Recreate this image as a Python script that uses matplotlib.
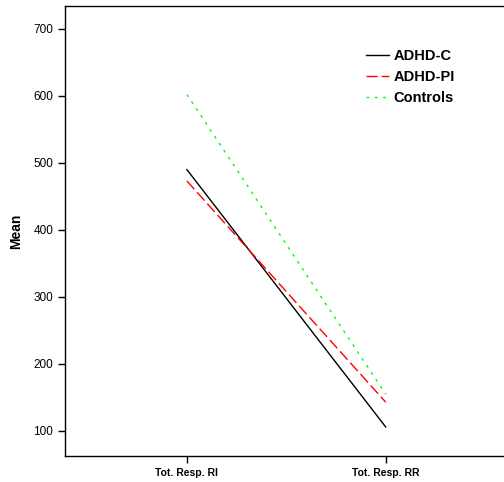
import matplotlib
matplotlib.use("Agg")
import matplotlib.pyplot as plt

categories = ["Tot. Resp. RI", "Tot. Resp. RR"]
adhd_c = [490, 106]
adhd_pi = [473, 143]
controls = [602, 155]
yticks = [100, 200, 300, 400, 500, 600, 700]

plt.rcParams['font.family'] = ['Liberation Sans', 'DejaVu Sans']
fig = plt.figure(figsize=(5.04, 4.82), dpi=100)
ax = fig.add_axes([65/504, 26/482, 1 - 65/504 + 0.002, 450/482])
x = list(range(len(categories)))
ax.plot(x, adhd_c, color='black', lw=1, label='ADHD-C')
ax.plot(x, adhd_pi, color='red', lw=1, dashes=(8, 3), label='ADHD-PI')
ax.plot(x, controls, color='#00ff00', lw=1, dashes=(2, 4), label='Controls')
ax.set_xlim(-0.613, 1.6)
ax.set_ylim(62.7, 734)
ax.set_xticks(x)
ax.set_xticklabels(categories, fontsize=7.5, fontweight='bold')
ax.set_yticks(yticks)
ax.set_yticklabels([str(v) for v in yticks], fontsize=8.5)
ax.set_ylabel('Mean', fontsize=10, fontweight='bold', labelpad=7)
ax.spines['right'].set_visible(False)
for s in ['left', 'bottom', 'top']:
    ax.spines[s].set_linewidth(1)
ax.tick_params(length=5, width=1)
ax.tick_params(axis='x', pad=4)
leg = ax.legend(loc='upper left', bbox_to_anchor=(0.654, 0.934), frameon=False,
                prop={'weight': 'bold', 'size': 10.5}, handlelength=1.6,
                labelspacing=0.5, handletextpad=0.3)
fig.savefig('out.png', dpi=100)
